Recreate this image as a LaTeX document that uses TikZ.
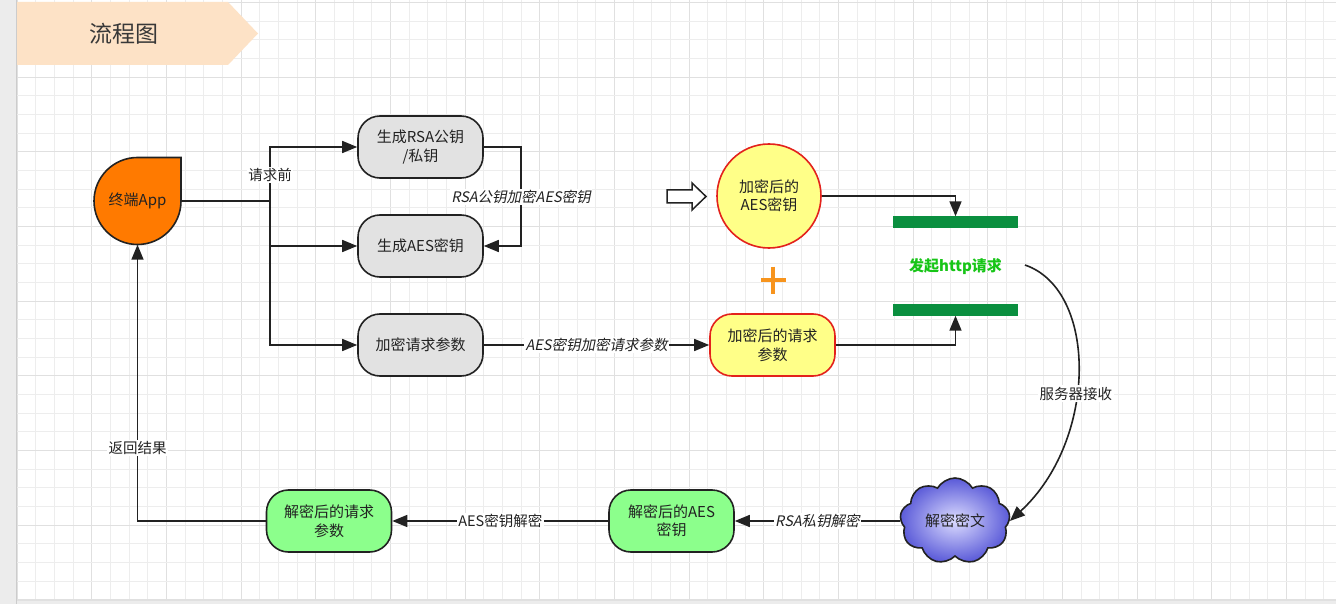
\documentclass[tikz,border=0pt]{standalone}
\usepackage{fontspec}
\setmainfont{Noto Sans CJK SC}
\newfontfamily\slfont{Noto Sans CJK SC}[FakeSlant=0.2]
\usetikzlibrary{arrows.meta,shapes.symbols}
\definecolor{ink}{HTML}{222222}
\definecolor{gminor}{HTML}{EDEDED}
\definecolor{gmajor}{HTML}{E0E0E0}
\definecolor{side}{HTML}{ECECEC}
\definecolor{peach}{HTML}{FDE2C6}
\definecolor{appor}{HTML}{FF7A00}
\definecolor{boxgray}{HTML}{E2E2E2}
\definecolor{yel}{HTML}{FFFF88}
\definecolor{redb}{HTML}{E3221C}
\definecolor{grn}{HTML}{8CFF8C}
\definecolor{bar}{HTML}{0A8F3F}
\definecolor{httpg}{HTML}{17C517}
\definecolor{plusor}{HTML}{F7941D}
\definecolor{cloudout}{HTML}{5A5AD8}
\definecolor{cloudin}{HTML}{DCDCFF}
\tikzset{
  proc/.style={draw=ink, line width=1.6pt, rounded corners=22pt, minimum width=125pt,
    minimum height=62pt, align=center, inner sep=2pt, text=ink},
  grayproc/.style={proc, fill=boxgray},
  yelproc/.style={proc, fill=yel, draw=redb},
  grnproc/.style={proc, fill=grn},
  conn/.style={draw=ink, line width=1.6pt},
  arr/.style={conn, -{Triangle[length=15pt,width=12pt]}},
  lbl/.style={fill=white, inner sep=1.5pt, text=ink, font=\fontsize{14.5}{17}\selectfont},
  greenbar/.style={fill=bar, minimum width=125pt, minimum height=12pt, inner sep=0pt},
}
\begin{document}
\begin{tikzpicture}[x=1pt,y=-1pt,font=\fontsize{15}{18.5}\selectfont]
\useasboundingbox (0,0) rectangle (1336,604);
% canvas and grid
\fill[side] (0,0) rectangle (1336,604);
\fill[white] (17,0) rectangle (1336,600);
\foreach \i in {0,...,70} {
  \pgfmathsetmacro{\xx}{17+18.67*\i}
  \pgfmathtruncatemacro{\m}{mod(\i,4)}
  \ifnum\m=0
    \draw[gmajor, line width=1pt] (\xx,0) -- (\xx,600);
  \else
    \draw[gminor, line width=0.9pt] (\xx,0) -- (\xx,600);
  \fi
}
\foreach \i in {0,...,32} {
  \pgfmathsetmacro{\yy}{2.5+18.67*\i}
  \pgfmathtruncatemacro{\m}{mod(\i,4)}
  \ifnum\m=0
    \draw[gmajor, line width=1pt] (17,\yy) -- (1336,\yy);
  \else
    \draw[gminor, line width=0.9pt] (17,\yy) -- (1336,\yy);
  \fi
}
\draw[black!20, line width=1pt] (16.5,0) -- (16.5,604);
\draw[gmajor, line width=1pt] (16.5,600.5) -- (1336,600.5);

% title banner
\fill[peach] (17,2) -- (228,2) -- (258,33.5) -- (228,65) -- (17,65) -- cycle;
\node[text=ink!90, font=\fontsize{23}{26}\selectfont] (title) at (124,33.5) {流程图};

% terminal app (teardrop)
\draw[fill=appor, draw=ink, line width=1.6pt]
  (181,157.5) -- (181,201) .. controls (181,225) and (161.5,244.5) .. (137.5,244.5)
  .. controls (113.5,244.5) and (94,225) .. (94,201)
  .. controls (94,177) and (113.5,157.5) .. (137.5,157.5) -- cycle;
\node[minimum width=87pt, minimum height=87pt, inner sep=0pt, text=ink] (app) at (137.5,201) {终端App};

% left column boxes
\node[grayproc] (rsa) at (420.5,147) {生成RSA公钥\\/私钥};
\node[grayproc] (aes) at (420.5,246) {生成AES密钥};
\node[grayproc] (prm) at (420.5,345) {加密请求参数};

% encrypted AES key circle and params
\node[circle, draw=redb, fill=yel, line width=1.6pt, minimum size=104pt, inner sep=0pt,
  align=center, text=ink] (eaes) at (769,196) {加密后的\\AES密钥};
\node[yelproc] (eprm) at (772.5,345) {加密后的请求\\参数};

% hollow block arrow
\draw[fill=white, draw=ink, line width=1.5pt]
  (667,190) -- (692,190) -- (692,183) -- (706,196.5) -- (692,210) -- (692,203) -- (667,203) -- cycle;
% plus
\draw[plusor, line width=3.6pt] (761,280) -- (786,280);
\draw[plusor, line width=3.6pt] (773,266.5) -- (773,294);

% http bars
\node[greenbar] (bar1) at (955.5,222.5) {};
\node[greenbar] (bar2) at (955.5,309.5) {};
\node[text=httpg, font=\fontsize{15}{18}\selectfont\bfseries] (http) at (955.5,266.5) {发起http请求};
\coordinate (cs) at (1025,265);

% cloud
\node[cloud, cloud puffs=9, cloud puff arc=120, aspect=1.3, draw=ink, line width=1.6pt,
  inner color=cloudin, outer color=cloudout, minimum width=110pt, minimum height=86pt,
  inner sep=0pt, text=ink] (cloud) at (955,521) {解密密文};

% bottom boxes
\node[grnproc] (daes) at (671.5,521) {解密后的AES\\密钥};
\node[grnproc] (dprm) at (329,521) {解密后的请求\\参数};

% connectors
\coordinate (j) at (270,201);
\draw[conn] (app.east) -- (j);
\draw[arr] (j) |- (rsa.west);
\draw[arr] (j) |- (aes.west);
\draw[arr] (j) |- (prm.west);
\node[lbl] (lq) at (270,175) {请求前};

\draw[arr] (rsa.east) -- ++(37,0) |- (aes.east);
\node[lbl, font=\fontsize{14.5}{17}\slfont] (lrsa) at (521,197) {RSA公钥加密AES密钥};

\draw[arr] (prm.east) -- node[lbl, font=\fontsize{14.5}{17}\slfont] {AES密钥加密请求参数} (eprm.west);

\draw[arr] (eaes.east) -| (bar1.north);
\draw[arr] (eprm.east) -| (bar2.south);

\draw[arr] (cs) .. controls (1098,290) and (1098,440) .. node[lbl, pos=0.57] {服务器接收} (cloud.east);

\draw[arr] (cloud.west) -- node[lbl, font=\fontsize{14.5}{17}\slfont] {RSA私钥解密} (daes.east);
\draw[arr] (daes.west) -- node[lbl] {AES密钥解密} (dprm.east);
\draw[arr] (dprm.west) -| node[lbl, pos=0.632] {返回结果} (app.south);
\end{tikzpicture}
\end{document}
